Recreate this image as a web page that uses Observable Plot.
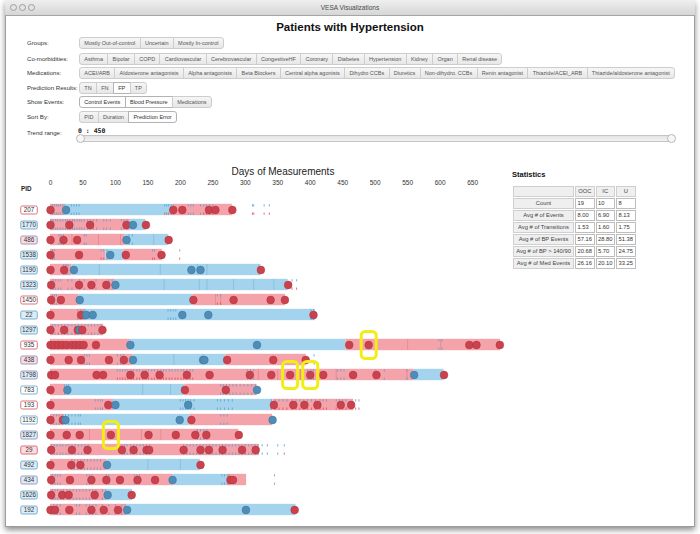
<!DOCTYPE html>
<html><head><meta charset="utf-8">
<script src="https://cdn.jsdelivr.net/npm/d3@7"></script>
<script src="https://cdn.jsdelivr.net/npm/@observablehq/plot@0.6"></script>
<style>
body{margin:0;width:700px;height:534px;background:#fff;font-family:"Liberation Sans",Arial,Helvetica,sans-serif;position:relative;overflow:hidden}
#win{position:absolute;left:5px;top:0;width:688px;height:526px;border:1px solid #9c9c9c;border-top:none;background:#fff;box-shadow:0 3px 6px rgba(0,0,0,.45)}
#titlebar{position:absolute;left:5px;top:0;width:690px;height:15px;background:linear-gradient(#efefef,#d6d6d6);border-bottom:1px solid #a5a5a5;font-size:6.5px;color:#4a4a4a;text-align:center;line-height:15px}
.light{position:absolute;top:4px;width:5px;height:5px;border-radius:50%;border:1px solid #9d9d9d;background:#e4e4e4}
#title{position:absolute;left:0;width:700px;top:21px;text-align:center;font-weight:bold;font-size:11.5px;color:#111}
.lbl{position:absolute;left:27px;font-size:6.1px;color:#333;line-height:11px;height:11px;white-space:nowrap}
.grp{position:absolute;left:79px;display:flex;height:11px}
.btn{height:10px;line-height:10px;padding:0 4.3px;font-size:5.5px;color:#555;background:linear-gradient(#f6f6f6,#e7e7e7);border:1px solid #cdcdcd;margin-left:-1px;white-space:nowrap}
.btn:first-child{border-radius:3px 0 0 3px;margin-left:0}
.btn:last-child{border-radius:0 3px 3px 0}
.btn.sel{background:#fdfdfd;border-color:#b3b3b3;color:#333}
#range{position:absolute;left:78px;top:127px;font-size:6.5px;font-weight:bold;color:#222;font-family:"DejaVu Sans Mono",monospace}
#track{position:absolute;left:78px;top:135px;width:595px;height:5px;border:1px solid #c4c4c4;border-radius:4px;background:linear-gradient(#e4e4e4,#f2f2f2)}
#handle{position:absolute;left:76px;top:134px;width:7px;height:7px;border-radius:50%;border:1px solid #b8b8b8;background:#f7f7f7}
#handle2{position:absolute;left:667px;top:134px;width:7px;height:7px;border-radius:50%;border:1px solid #b8b8b8;background:#f7f7f7}
#xlabel{position:absolute;left:183px;width:200px;top:166px;text-align:center;font-size:10px;color:#222}
#pid{position:absolute;left:21px;top:185px;font-size:6.3px;font-weight:bold;color:#222}
#chart{position:absolute;left:0;top:160px}
#statsTitle{position:absolute;left:512px;top:170px;font-size:7.5px;font-weight:bold;color:#111}
#stats{position:absolute;left:512px;top:185px;border-collapse:separate;border-spacing:1px;font-size:5.8px;color:#444}
#stats td{height:9px;padding:0 1.5px;border:1px solid #cfcfcf;line-height:9px;white-space:nowrap}
#stats td.h{background:#efefef;text-align:center}
#stats td.v{background:#fff;text-align:left;border-color:#bdbdbd;color:#333}
</style></head>
<body>
<div id="win"></div>
<div id="titlebar">VESA Visualizations</div>
<div class="light" style="left:10px"></div><div class="light" style="left:19px"></div><div class="light" style="left:28px"></div>
<div id="title">Patients with Hypertension</div>
<div id="controls"></div>
<div id="range">0 : 450</div>
<div id="track"></div><div id="handle"></div><div id="handle2"></div>
<div id="xlabel">Days of Measurements</div>
<div id="pid">PID</div>
<div id="chart"></div>
<div id="statsTitle">Statistics</div>
<table id="stats"></table>
<script>
// ---------- UI text ----------
const controlLabels = ["Groups:", "Co-morbidities:", "Medications:", "Prediction Results:", "Show Events:", "Sort By:", "Trend range:"];
const groupsBtns = ["Mostly Out-of-control", "Uncertain", "Mostly In-control"];
const comorbidityBtns = ["Asthma", "Bipolar", "COPD", "Cardiovascular", "Cerebrovascular", "CongestiveHF", "Coronary", "Diabetes", "Hypertension", "Kidney", "Organ", "Renal disease"];
const medicationBtns = ["ACEI/ARB", "Aldosterone antagonists", "Alpha antagonists", "Beta Blockers", "Central alpha agonists", "Dihydro CCBs", "Diuretics", "Non-dihydro. CCBs", "Renin antagonist", "Thiazide/ACEI_ARB", "Thiazide/aldosterone antagonist"];
const predictionBtns = ["TN", "FN", "FP", "TP"];
const showEventsBtns = ["Control Events", "Blood Pressure", "Medications"];
const sortByBtns = ["PID", "Duration", "Prediction Error"];
const selectedBtns = ["FP", "Control Events", "Blood Pressure", "Prediction Error"];

// ---------- chart data ----------
const xTicks = [0, 50, 100, 150, 200, 250, 300, 350, 400, 450, 500, 550, 600, 650];
const pids = ["207","1770","486","1538","1190","1323","1450","22","1297","935","438","1798","783","193","1192","1827","29","492","434","1626","192"];
const pidGroup = ["OOC","IC","U","IC","IC","IC","OOC","IC","IC","OOC","U","U","IC","OOC","IC","U","OOC","IC","U","IC","IC"];
const pidPredicted = ["none","IC","OOC","IC","IC","IC","none","IC","IC","none","OOC","IC","none","none","none","IC","OOC","IC","IC","IC","IC"];

// [pid, start day, end day, state]
const segments = [
  ["207",0,22,"out"],["207",22,189,"in"],["207",189,280,"out"],
  ["1770",0,123,"out"],["1770",123,147,"in"],
  ["486",0,115,"out"],["486",115,182,"in"],
  ["1538",0,85,"out"],["1538",85,113,"in"],["1538",113,172,"out"],
  ["1190",0,33,"out"],["1190",33,324,"in"],
  ["1323",0,100,"out"],["1323",100,366,"in"],
  ["1450",0,44,"out"],["1450",44,220,"in"],["1450",220,362,"out"],
  ["22",0,54,"out"],["22",54,408,"in"],
  ["1297",0,82,"out"],
  ["935",0,123,"out"],["935",123,455,"in"],["935",455,693,"out"],
  ["438",0,127,"out"],["438",127,270,"in"],["438",270,394,"out"],
  ["1798",0,560,"out"],["1798",560,606,"in"],
  ["783",0,24,"out"],["783",24,207,"in"],["783",207,318,"out"],
  ["193",0,97,"out"],["193",97,343,"in"],["193",343,467,"out"],
  ["1192",0,22,"out"],["1192",22,215,"in"],["1192",215,342,"out"],
  ["1827",0,290,"out"],
  ["29",0,321,"out"],
  ["492",0,87,"out"],["492",87,231,"in"],
  ["434",0,188,"out"],["434",188,272,"in"],["434",272,302,"out"],
  ["1626",0,85,"out"],["1626",85,126,"in"],
  ["192",0,118,"out"],["192",118,378,"in"]
];

// [pid, day, state] control events
const controlEvents = [
  ["207",0,"out"],["207",24,"in"],["207",189,"out"],["207",203,"out"],["207",244,"out"],["207",254,"out"],["207",280,"out"],
  ["1770",0,"out"],["1770",29,"out"],["1770",61,"out"],["1770",117,"out"],["1770",127,"in"],["1770",147,"out"],
  ["486",0,"out"],["486",20,"out"],["486",41,"out"],["486",117,"in"],["486",182,"out"],
  ["1538",0,"out"],["1538",44,"out"],["1538",92,"in"],["1538",116,"out"],["1538",171,"out"],
  ["1190",0,"out"],["1190",21,"out"],["1190",36,"in"],["1190",217,"in"],["1190",231,"in"],["1190",324,"out"],
  ["1323",1,"out"],["1323",44,"out"],["1323",63,"out"],["1323",86,"out"],["1323",100,"in"],["1323",366,"out"],
  ["1450",1,"out"],["1450",16,"out"],["1450",45,"in"],["1450",220,"out"],["1450",282,"out"],["1450",339,"out"],["1450",361,"out"],
  ["22",0,"out"],["22",47,"out"],["22",55,"in"],["22",65,"in"],["22",203,"in"],["22",243,"in"],["22",405,"out"],
  ["1297",0,"out"],["1297",21,"out"],["1297",42,"out"],["1297",45,"in"],["1297",49,"out"],["1297",80,"out"],
  ["935",0,"out"],["935",6,"out"],["935",12,"out"],["935",18,"out"],["935",25,"out"],["935",33,"out"],["935",39,"out"],["935",45,"out"],["935",51,"out"],["935",70,"out"],["935",123,"in"],["935",318,"in"],["935",460,"out"],["935",490,"out"],["935",645,"out"],["935",656,"out"],["935",692,"out"],
  ["438",0,"out"],["438",28,"out"],["438",47,"out"],["438",90,"out"],["438",113,"out"],["438",127,"in"],["438",235,"in"],["438",237,"in"],["438",272,"out"],["438",343,"out"],["438",393,"out"],
  ["1798",1,"out"],["1798",7,"out"],["1798",71,"out"],["1798",81,"out"],["1798",123,"out"],["1798",145,"out"],["1798",168,"out"],["1798",210,"out"],["1798",245,"out"],["1798",307,"out"],["1798",340,"out"],["1798",369,"out"],["1798",400,"out"],["1798",420,"out"],["1798",466,"out"],["1798",502,"out"],["1798",560,"in"],["1798",606,"out"],
  ["783",0,"out"],["783",26,"in"],["783",207,"out"],["783",270,"out"],["783",318,"in"],
  ["193",0,"out"],["193",89,"out"],["193",100,"in"],["193",212,"in"],["193",344,"out"],["193",374,"out"],["193",391,"out"],["193",411,"out"],["193",447,"out"],["193",463,"out"],
  ["1192",0,"out"],["1192",19,"out"],["1192",23,"in"],["1192",199,"in"],["1192",217,"out"],["1192",342,"in"],
  ["1827",0,"out"],["1827",25,"out"],["1827",45,"out"],["1827",93,"out"],["1827",151,"out"],["1827",193,"out"],["1827",223,"out"],["1827",240,"out"],["1827",290,"out"],
  ["29",1,"out"],["29",33,"out"],["29",57,"out"],["29",110,"out"],["29",128,"out"],["29",148,"out"],["29",152,"out"],["29",205,"out"],["29",231,"out"],["29",244,"out"],["29",265,"out"],["29",295,"out"],["29",316,"out"],
  ["492",0,"out"],["492",32,"out"],["492",46,"out"],["492",87,"in"],["492",231,"out"],
  ["434",1,"out"],["434",30,"out"],["434",63,"out"],["434",86,"out"],["434",107,"out"],["434",134,"out"],["434",161,"out"],["434",188,"in"],["434",277,"out"],["434",281,"out"],
  ["1626",1,"out"],["1626",18,"out"],["1626",28,"out"],["1626",68,"out"],["1626",88,"in"],["1626",125,"out"],
  ["192",0,"out"],["192",7,"out"],["192",29,"out"],["192",63,"out"],["192",82,"out"],["192",104,"out"],["192",118,"in"],["192",301,"in"],["192",376,"out"]
];

// blood pressure measurement days: below 140/90 and above 140/90
const bpNormal = [
  ["207",[3,6,9,12,15,19,22,32,36,40,44,212,216,220,231]],
  ["1770",[1,4,8,11,15,19,23,26,30,34,37,41,45,48,52,57,61,66,71,82,86,92,109,113,118]],
  ["486",[13,16,20,52,55,121,126]],
  ["1538",[3,6]],
  ["1190",[20,24,27]],
  ["1323",[4,8,12,16,27,33,45,52,70,90,95]],
  ["1450",[3,6,9]],
  ["22",[42,46,50,53,181,185,189,193,401,405]],
  ["1297",[3,7,17,22,27,33,43,48,53,58,68,73,78]],
  ["935",[598,603]],
  ["438",[52,56,60,103,108,112,406]],
  ["1798",[303,308,313,396,401,405,442,447,452,514,549]],
  ["783",[22,25,28,262,266,271,276,281,286,292,298,304,310,316]],
  ["193",[69,73,77,80,200,204,208,212,216,221,257,262,268,274,280]],
  ["1192",[5,9,13,18,23,28,33,38,43,46,262,267,272]],
  ["1827",[226,231,236,241]],
  ["29",[2,6,10,15,19,24,28,33,38,43,48,53,58,110,114,118,123,128,133,138,143,148,153,205,210,215,220,225,230,235,240,245,250,255,260,265,270,275,280,285,290,295,300,305,310,315,320,326,334,350]],
  ["492",[33,37,42,47,52,57,62,67,72,77]],
  ["434",[3,7,11,15,56,60,64,86,90,129,133,137,264,268,272,275,345]],
  ["1626",[3,7,11,16,20,25,30,35,40,45,50,55,60,65,70,80,85]],
  ["192",[5,10,15,40,45,55,60,65,70,80,90,100,110,115]]
];
const bpHigh = [
  ["207",[176,179,182,186,189,236,240,245,250,311,313,329,337]],
  ["1538",[78,82,87,157,160,199]],
  ["1323",[372,379]],
  ["1450",[257,262]],
  ["1297",[12,38,63]],
  ["1798",[103,107,111,115,119,124,128,133,137,142,147,151,156,160,165,170,174,178,183,187,192,196,201,205,210,215,219]],
  ["193",[340,346,352,358,364,372,378,384,390,396,402,408,415,420,425,440,445,450,455,470,475]],
  ["29",[360]]
];
// other recorded events drawn as faint lines through the bars
const eventLines = [
  ["486",33],["486",74],["486",108],["486",159],
  ["1190",23],["1190",75],["1190",169],["1190",226],["1190",241],["1190",321],
  ["1323",175],["1323",229],["1323",241],["1323",282],["1323",313],["1323",344],
  ["1450",254],["1450",262],
  ["935",550],["935",601],
  ["438",190],["438",235],
  ["1798",320],["1798",350],["1798",385],["1798",440],["1798",500],["1798",549],
  ["783",142],["783",185],
  ["1827",60],["1827",140],["1827",170],["1827",226],
  ["492",150],["492",200]
];
const highlights = [["935",490],["1798",369],["1798",400],["1827",93]];

// ---------- statistics ----------
const statsCols = ["OOC","IC","U"];
const statsRows = ["Count","Avg # of Events","Avg # of Transitions","Avg # of BP Events","Avg # of BP > 140/90","Avg # of Med Events"];
const statsOOC = ["19","8.00","1.53","57.16","20.68","26.16"];
const statsIC = ["10","6.90","1.60","28.80","5.70","20.10"];
const statsU = ["8","8.13","1.75","51.38","24.75","33.25"];

// ---------- controls ----------
const rowTops = [37, 52.5, 66.5, 82, 96, 110.5, 127];
const groupsAll = [groupsBtns, comorbidityBtns, medicationBtns, predictionBtns, showEventsBtns, sortByBtns];
const ctl = document.getElementById("controls");
controlLabels.forEach((l, i) => {
  const d = document.createElement("div");
  d.className = "lbl"; d.style.top = rowTops[i] + "px"; d.textContent = l;
  ctl.appendChild(d);
  if (i < groupsAll.length) {
    const g = document.createElement("div");
    g.className = "grp"; g.style.top = rowTops[i] + "px";
    groupsAll[i].forEach(b => {
      const e = document.createElement("div");
      e.className = "btn" + (selectedBtns.includes(b) ? " sel" : "");
      e.textContent = b; g.appendChild(e);
    });
    ctl.appendChild(g);
  }
});

// ---------- stats table ----------
const tbl = document.getElementById("stats");
let html = "<tr><td class='h' style='width:56px'></td>" + statsCols.map(c => `<td class='h' style='width:13px'>${c}</td>`).join("") + "</tr>";
statsRows.forEach((r, i) => {
  html += `<tr><td class='h'>${r}</td><td class='v'>${statsOOC[i]}</td><td class='v'>${statsIC[i]}</td><td class='v'>${statsU[i]}</td></tr>`;
});
tbl.innerHTML = html;

// ---------- chart ----------
const segColor = {out: "#f5a3ab", in: "#a4d4ed"};
const lineColor = {out: "#d9707b", in: "#6aa9d2"};
const dotFill = {out: "#c9424d", in: "#4f8cb6"};
const dotStroke = {out: "#b5343f", in: "#3d77a1"};
const borderColor = {OOC: "#d4505b", IC: "#5d9cc9", U: "#8c83b5"};
const fillColor = {OOC: "#fadde1", IC: "#dcedf7", none: "#ffffff"};

const segData = segments.map(([pid, x1, x2, s]) => ({pid, x1, x2, s}));
const dotData = controlEvents.map(([pid, day, s]) => ({pid, day, s}));
const bpData = [
  ...bpNormal.flatMap(([pid, ds]) => ds.map(day => ({pid, day, high: false}))),
  ...bpHigh.flatMap(([pid, ds]) => ds.map(day => ({pid, day, high: true})))
];
const lineData = eventLines.map(([pid, day]) => {
  const seg = segData.find(g => g.pid === pid && day >= g.x1 && day <= g.x2);
  return {pid, day, s: seg ? seg.s : "out"};
});
const hiData = highlights.map(([pid, day]) => ({pid, day}));
const pidData = pids.map((p, i) => ({pid: p, g: pidGroup[i], f: pidPredicted[i]}));

function roundRect(w, h, r) {
  return {draw(ctx) {
    const x0 = -w/2, y0 = -h/2, x1 = w/2, y1 = h/2;
    ctx.moveTo(x0 + r, y0); ctx.lineTo(x1 - r, y0); ctx.arcTo(x1, y0, x1, y0 + r, r);
    ctx.lineTo(x1, y1 - r); ctx.arcTo(x1, y1, x1 - r, y1, r);
    ctx.lineTo(x0 + r, y1); ctx.arcTo(x0, y1, x0, y1 - r, r);
    ctx.lineTo(x0, y0 + r); ctx.arcTo(x0, y0, x0 + r, y0, r); ctx.closePath();
  }};
}

const chart = Plot.plot({
  width: 505, height: 370,
  marginLeft: 50, marginRight: 5, marginTop: 35.2, marginBottom: 7.2,
  style: {background: "transparent", fontSize: "6.5px", fontFamily: "Liberation Sans, Arial, sans-serif", color: "#333"},
  x: {domain: [0, 693]},
  y: {type: "band", domain: pids, padding: 0, axis: null},
  marks: [
    Plot.axisX({anchor: "top", ticks: xTicks, tickSize: 0, tickPadding: 11, label: null, tickFormat: d => d}),
    Plot.barX(segData, {y: "pid", x1: "x1", x2: "x2", fill: d => segColor[d.s], insetTop: 1.8, insetBottom: 1.8}),
    Plot.tickX(lineData, {y: "pid", x: "day", stroke: d => lineColor[d.s], strokeWidth: 0.6, strokeOpacity: 0.8, insetTop: 2, insetBottom: 2}),
    Plot.tickX(bpData, {y: "pid", x: "day", stroke: "#5b9fd1", strokeWidth: 0.8, insetTop: 2.2, insetBottom: 10.5}),
    Plot.tickX(bpData, {y: "pid", x: "day", stroke: d => d.high ? "#d9505c" : "#5b9fd1", strokeWidth: 0.8, insetTop: 10.5, insetBottom: 2.2}),
    Plot.dot(dotData, {y: "pid", x: "day", r: 3.9, fill: d => dotFill[d.s], stroke: d => dotStroke[d.s], strokeWidth: 0.5}),
    Plot.dot(hiData, {y: "pid", x: "day", symbol: roundRect(15, 27, 4), r: 5, fill: "none", stroke: "#f2ee14", strokeWidth: 3}),
    Plot.dot(pidData, {y: "pid", frameAnchor: "left", dx: -21.5, symbol: roundRect(16.5, 8, 1.5), r: 5, fill: d => fillColor[d.f], stroke: d => borderColor[d.g], strokeWidth: 0.8}),
    Plot.text(pidData, {y: "pid", text: "pid", frameAnchor: "left", dx: -21.5, textAnchor: "middle", fontSize: 6.3, fill: "#333"})
  ]
});
document.getElementById("chart").appendChild(chart);
</script>
</body></html>
